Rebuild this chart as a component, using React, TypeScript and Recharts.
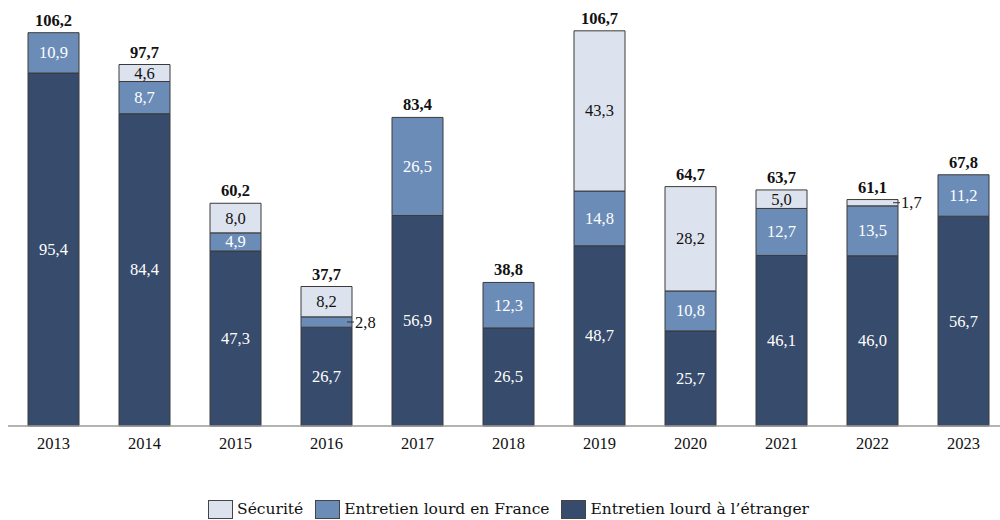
import React from "react";
import { BarChart, Bar, XAxis, YAxis, LabelList, Legend } from "recharts";

const years = ["2013", "2014", "2015", "2016", "2017", "2018", "2019", "2020", "2021", "2022", "2023"];
const etranger = [95.4, 84.4, 47.3, 26.7, 56.9, 26.5, 48.7, 25.7, 46.1, 46.0, 56.7];
const france = [10.9, 8.7, 4.9, 2.8, 26.5, 12.3, 14.8, 10.8, 12.7, 13.5, 11.2];
const securite = [0, 4.6, 8.0, 8.2, 0, 0, 43.3, 28.2, 5.0, 1.7, 0];
const totals = [106.2, 97.7, 60.2, 37.7, 83.4, 38.8, 106.7, 64.7, 63.7, 61.1, 67.8];

const data = years.map((year, i) => ({
  year,
  etranger: etranger[i],
  france: france[i],
  securite: securite[i],
  total: totals[i],
}));

const FONT = "'Liberation Serif', 'Times New Roman', serif";
const LEGEND_FONT = "'DejaVu Serif', serif";
const C_DARK = "#374B6C";
const C_MID = "#6C8CB8";
const C_LIGHT = "#DDE3EE";
const STROKE = "#3a3a3a";

const fmt = (v: number) => v.toFixed(1).replace(".", ",");

const makeSegLabel = (color: string) => (props: any) => {
  const vb = props.viewBox ?? props;
  const x = Number(vb.x);
  const y = Number(vb.y);
  const width = Number(vb.width);
  const height = Number(vb.height);
  const v = Number(props.value);
  if (!v) return null;
  const txt = fmt(v);
  const cy = y + height / 2;
  if (v < 3) {
    return (
      <g>
        <line x1={x + width - 5} y1={cy} x2={x + width + 2} y2={cy} stroke="#333" strokeWidth={1} />
        <text x={x + width + 3} y={cy} dominantBaseline="central" fontFamily={FONT} fontSize={16.5} fill="#111">
          {txt}
        </text>
      </g>
    );
  }
  return (
    <text x={x + width / 2} y={cy} textAnchor="middle" dominantBaseline="central" fontFamily={FONT} fontSize={16.5} fill={color}>
      {txt}
    </text>
  );
};

const TotalLabel = (props: any) => {
  const vb = props.viewBox ?? props;
  const x = Number(vb.x);
  const y = Number(vb.y);
  const width = Number(vb.width);
  const v = props.value;
  if (v === null || v === undefined || v === "") return null;
  return (
    <text x={x + width / 2} y={y - 7} textAnchor="middle" fontFamily={FONT} fontSize={16.5} fontWeight="bold" fill="#111">
      {fmt(Number(v))}
    </text>
  );
};

const legendItems = [
  { label: "Sécurité", color: C_LIGHT },
  { label: "Entretien lourd en France", color: C_MID },
  { label: "Entretien lourd à l’étranger", color: C_DARK },
];

const LegendContent = () => (
  <div style={{ display: "flex", justifyContent: "center", alignItems: "center", height: 22, fontFamily: LEGEND_FONT, fontSize: 15.5, color: "#111" }}>
    {legendItems.map((it, i) => (
      <div key={it.label} style={{ display: "flex", alignItems: "center", marginRight: i < legendItems.length - 1 ? 12 : 0 }}>
        <div style={{ width: 23, height: 17, background: it.color, border: "1px solid #444", marginRight: 4 }} />
        <span>{it.label}</span>
      </div>
    ))}
  </div>
);

export default function App() {
  return (
    <div style={{ position: "absolute", left: 0, top: 0, width: 1000, height: 520, overflow: "hidden", background: "#fff" }}>
      <BarChart
        width={1010}
        height={520}
        data={data}
        margin={{ top: 19, right: 1, bottom: 0, left: 8 }}
        barSize={51}
      >
        <XAxis
          dataKey="year"
          axisLine={{ stroke: "#9a9a9a", strokeWidth: 1.5 }}
          tickLine={false}
          tickMargin={5}
          height={72}
          interval={0}
          tick={{ fontFamily: FONT, fontSize: 16.5, fill: "#111" }}
        />
        <YAxis hide domain={[0, 110]} />
        <Legend verticalAlign="bottom" content={<LegendContent />} />
        <Bar dataKey="etranger" stackId="a" fill={C_DARK} stroke={STROKE} strokeWidth={1} isAnimationActive={false}>
          <LabelList dataKey="etranger" content={makeSegLabel("#ffffff")} />
        </Bar>
        <Bar dataKey="france" stackId="a" fill={C_MID} stroke={STROKE} strokeWidth={1} isAnimationActive={false}>
          <LabelList dataKey="france" content={makeSegLabel("#ffffff")} />
          <LabelList dataKey={(d: any) => (d.securite === 0 ? d.total : null)} content={TotalLabel} />
        </Bar>
        <Bar dataKey="securite" stackId="a" fill={C_LIGHT} stroke={STROKE} strokeWidth={1} isAnimationActive={false}>
          <LabelList dataKey="securite" content={makeSegLabel("#111111")} />
          <LabelList dataKey={(d: any) => (d.securite !== 0 ? d.total : null)} content={TotalLabel} />
        </Bar>
      </BarChart>
    </div>
  );
}
